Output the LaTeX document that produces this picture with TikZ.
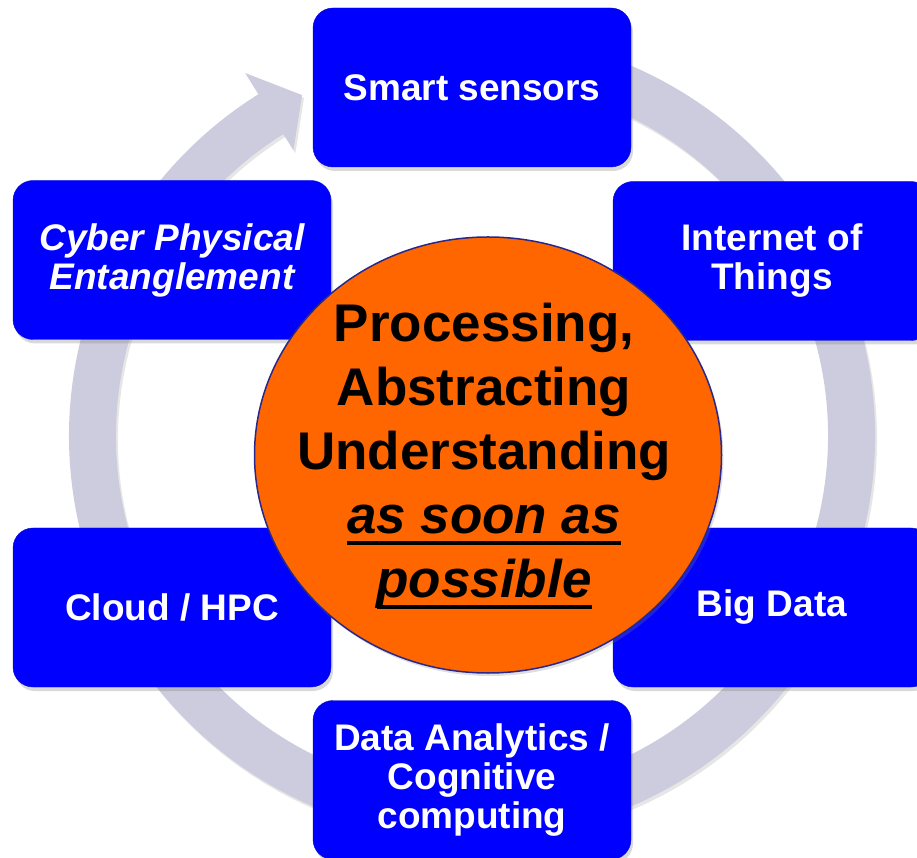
\documentclass[tikz,border=0pt]{standalone}
\usepackage{fontspec}
\setmainfont{Liberation Sans}
\usetikzlibrary{shapes.geometric,shadows}

\definecolor{azul}{RGB}{0,0,255}
\definecolor{bordeazul}{RGB}{10,10,205}
\definecolor{anillo}{RGB}{204,204,222}
\definecolor{naranja}{RGB}{255,102,0}
\definecolor{marino}{RGB}{40,40,140}

% Subrayado grueso para la ultima frase
\newsavebox{\cajasub}
\newcommand{\subrayado}[1]{\sbox{\cajasub}{#1}\rlap{\rule[-12pt]{\wd\cajasub}{4pt}}\usebox{\cajasub}}

\begin{document}
\begin{tikzpicture}[x=1pt, y=1pt,
  caja/.style={draw=bordeazul, fill=azul, rounded corners=20pt,
    minimum width=318pt, minimum height=159pt, text=white, align=center,
    font=\fontsize{37}{39}\selectfont\bfseries,
    drop shadow={shadow xshift=2pt, shadow yshift=-4pt, opacity=0.3}},
  cursiva/.style={font=\fontsize{37}{39}\selectfont\bfseries\itshape}]
\useasboundingbox (0,0) rectangle (917,857);
\clip (0,0) rectangle (917,857);

% Anillo gris (flecha circular, la cola queda bajo la caja de arriba)
\begin{scope}[shift={(472,421)}]
\fill[anillo, drop shadow={shadow xshift=2pt, shadow yshift=-3pt, opacity=0.2}]
  (460:403pt) arc[start angle=460, end angle=122, radius=403pt]
  -- (122:428pt) -- (116.5:381pt) -- (122:337pt) -- (122:356pt)
  arc[start angle=122, end angle=460, radius=356pt] -- cycle;
\end{scope}

% Las seis cajas azules
\node [caja] (sensores) at (472,769.5) {Smart sensors};
\node [caja] (internet) at (772,596) {Internet of\\Things};
\node [caja] (bigdata) at (772,249.5) {Big Data};
\node [caja] (analitica) at (472,77) {Data Analytics /\\Cognitive\\computing};
\node [caja] (nube) at (172,249.5) {Cloud / HPC};
\node [caja, cursiva] (cps) at (172,597) {Cyber Physical\\Entanglement};

% Elipse naranja del centro
\node [ellipse, draw=marino, line width=1.5pt, fill=naranja,
  minimum width=467pt, minimum height=436pt, inner sep=0pt,
  drop shadow={shadow xshift=2pt, shadow yshift=-3pt, opacity=0.25}] (centro) at (488,402) {};
\node [font=\fontsize{53}{64}\selectfont\bfseries, align=center] (lema) at (484,401)
  {Processing,\\Abstracting\\Understanding\\\subrayado{\itshape as soon as}\\\subrayado{\itshape possible}};
\end{tikzpicture}
\end{document}
